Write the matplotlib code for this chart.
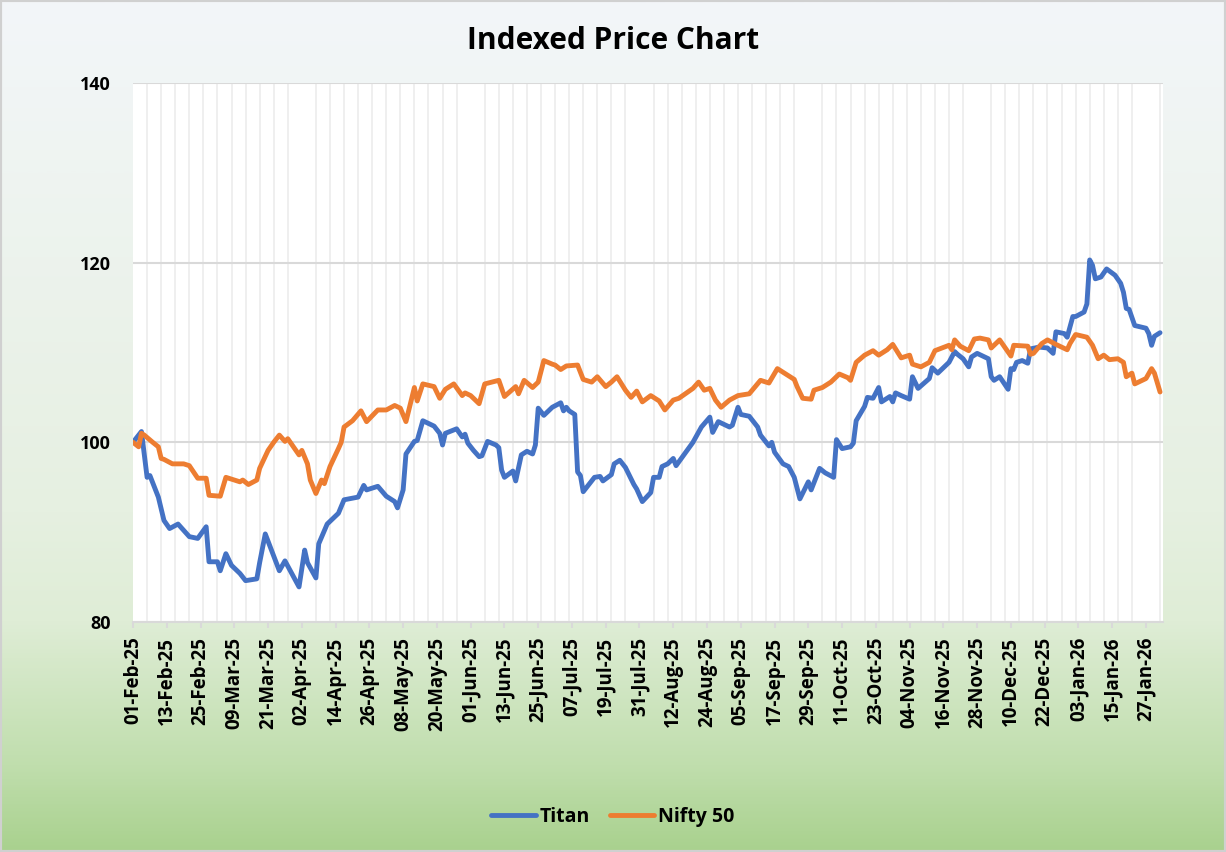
import matplotlib
matplotlib.use("Agg")
import matplotlib.pyplot as plt
import matplotlib.dates as mdates
from matplotlib.colors import LinearSegmentedColormap
from matplotlib.patches import Rectangle
import numpy as np
import pandas as pd

# Indexed prices (01-Feb-25 = 100)
titan_dates = [
    "2025-02-01", "2025-02-04", "2025-02-06", "2025-02-07", "2025-02-10", "2025-02-12",
    "2025-02-14", "2025-02-17", "2025-02-21", "2025-02-24", "2025-02-27", "2025-02-28",
    "2025-03-03", "2025-03-04", "2025-03-06", "2025-03-08", "2025-03-11", "2025-03-13",
    "2025-03-17", "2025-03-18", "2025-03-20", "2025-03-25", "2025-03-27", "2025-04-01",
    "2025-04-03", "2025-04-04", "2025-04-07", "2025-04-08", "2025-04-11", "2025-04-15",
    "2025-04-17", "2025-04-22", "2025-04-24", "2025-04-25", "2025-04-29", "2025-05-02",
    "2025-05-05", "2025-05-06", "2025-05-08", "2025-05-09", "2025-05-12", "2025-05-13",
    "2025-05-15", "2025-05-19", "2025-05-21", "2025-05-22", "2025-05-23", "2025-05-27",
    "2025-05-29", "2025-05-30", "2025-05-31", "2025-06-02", "2025-06-04", "2025-06-05",
    "2025-06-07", "2025-06-10", "2025-06-11", "2025-06-12", "2025-06-13", "2025-06-16",
    "2025-06-17", "2025-06-19", "2025-06-21", "2025-06-23", "2025-06-24", "2025-06-25",
    "2025-06-27", "2025-06-30", "2025-07-03", "2025-07-04", "2025-07-05", "2025-07-06",
    "2025-07-08", "2025-07-09", "2025-07-10", "2025-07-11", "2025-07-15", "2025-07-17",
    "2025-07-18", "2025-07-21", "2025-07-22", "2025-07-24", "2025-07-26", "2025-07-29",
    "2025-07-30", "2025-08-01", "2025-08-04", "2025-08-05", "2025-08-07", "2025-08-08",
    "2025-08-10", "2025-08-12", "2025-08-13", "2025-08-16", "2025-08-19", "2025-08-22",
    "2025-08-25", "2025-08-26", "2025-08-28", "2025-09-01", "2025-09-02", "2025-09-04",
    "2025-09-05", "2025-09-08", "2025-09-11", "2025-09-12", "2025-09-15", "2025-09-16",
    "2025-09-17", "2025-09-20", "2025-09-22", "2025-09-24", "2025-09-26", "2025-09-29",
    "2025-09-30", "2025-10-03", "2025-10-05", "2025-10-08", "2025-10-09", "2025-10-11",
    "2025-10-14", "2025-10-15", "2025-10-16", "2025-10-19", "2025-10-20", "2025-10-22",
    "2025-10-24", "2025-10-25", "2025-10-28", "2025-10-29", "2025-10-30", "2025-11-01",
    "2025-11-04", "2025-11-05", "2025-11-07", "2025-11-11", "2025-11-12", "2025-11-14",
    "2025-11-18", "2025-11-20", "2025-11-21", "2025-11-23", "2025-11-25", "2025-11-26",
    "2025-11-28", "2025-12-02", "2025-12-03", "2025-12-04", "2025-12-06", "2025-12-09",
    "2025-12-10", "2025-12-11", "2025-12-12", "2025-12-14", "2025-12-16", "2025-12-17",
    "2025-12-20", "2025-12-23", "2025-12-25", "2025-12-26", "2025-12-29", "2025-12-30",
    "2026-01-01", "2026-01-02", "2026-01-05", "2026-01-06", "2026-01-07", "2026-01-08",
    "2026-01-09", "2026-01-11", "2026-01-13", "2026-01-16", "2026-01-18", "2026-01-19",
    "2026-01-20", "2026-01-21", "2026-01-23", "2026-01-27", "2026-01-28", "2026-01-29",
    "2026-01-30", "2026-02-01",
]
titan_values = [
    100.0, 101.2, 96.1, 96.3, 93.9, 91.3,
    90.4, 90.9, 89.5, 89.3, 90.6, 86.7,
    86.7, 85.7, 87.6, 86.3, 85.4, 84.6,
    84.8, 86.6, 89.8, 85.7, 86.8, 83.9,
    88.0, 86.6, 84.9, 88.7, 90.9, 92.1,
    93.6, 93.9, 95.2, 94.7, 95.1, 94.0,
    93.4, 92.7, 94.7, 98.7, 100.1, 100.2,
    102.4, 101.8, 101.0, 99.7, 101.0, 101.5,
    100.6, 100.9, 99.9, 99.1, 98.4, 98.5,
    100.1, 99.7, 99.4, 96.9, 96.1, 96.8,
    95.7, 98.6, 99.0, 98.7, 99.7, 103.8,
    103.0, 103.9, 104.4, 103.5, 103.9, 103.5,
    103.1, 96.7, 96.3, 94.5, 96.1, 96.2,
    95.7, 96.4, 97.6, 98.0, 97.2, 95.3,
    94.8, 93.4, 94.4, 96.1, 96.1, 97.3,
    97.6, 98.2, 97.4, 98.7, 100.0, 101.7,
    102.8, 101.1, 102.3, 101.7, 101.9, 103.9,
    103.1, 102.9, 101.7, 100.8, 99.6, 100.0,
    98.9, 97.6, 97.3, 96.1, 93.7, 95.6,
    94.7, 97.1, 96.6, 96.1, 100.3, 99.3,
    99.5, 99.9, 102.4, 104.0, 105.0, 104.9,
    106.1, 104.5, 105.1, 104.5, 105.5, 105.2,
    104.8, 107.3, 106.0, 107.1, 108.3, 107.7,
    108.9, 110.1, 109.8, 109.3, 108.4, 109.5,
    109.9, 109.3, 107.3, 106.9, 107.3, 105.9,
    108.2, 108.1, 108.9, 109.1, 108.8, 110.4,
    110.6, 110.5, 109.9, 112.3, 112.1, 111.7,
    114.0, 114.0, 114.5, 115.4, 120.3, 119.7,
    118.2, 118.4, 119.3, 118.6, 117.7, 116.7,
    114.9, 114.8, 113.0, 112.7, 112.1, 110.8,
    111.8, 112.2,
]

nifty_dates = [
    "2025-02-01", "2025-02-03", "2025-02-04", "2025-02-05", "2025-02-08", "2025-02-10",
    "2025-02-11", "2025-02-12", "2025-02-15", "2025-02-19", "2025-02-21", "2025-02-24",
    "2025-02-27", "2025-02-28", "2025-03-04", "2025-03-06", "2025-03-09", "2025-03-11",
    "2025-03-12", "2025-03-14", "2025-03-17", "2025-03-18", "2025-03-21", "2025-03-23",
    "2025-03-25", "2025-03-27", "2025-03-28", "2025-04-01", "2025-04-02", "2025-04-04",
    "2025-04-05", "2025-04-07", "2025-04-09", "2025-04-10", "2025-04-12", "2025-04-15",
    "2025-04-16", "2025-04-17", "2025-04-20", "2025-04-23", "2025-04-25", "2025-04-29",
    "2025-05-02", "2025-05-05", "2025-05-07", "2025-05-09", "2025-05-12", "2025-05-13",
    "2025-05-15", "2025-05-19", "2025-05-21", "2025-05-23", "2025-05-26", "2025-05-29",
    "2025-05-30", "2025-06-01", "2025-06-04", "2025-06-06", "2025-06-11", "2025-06-13",
    "2025-06-17", "2025-06-18", "2025-06-20", "2025-06-23", "2025-06-25", "2025-06-27",
    "2025-06-30", "2025-07-01", "2025-07-03", "2025-07-05", "2025-07-09", "2025-07-11",
    "2025-07-14", "2025-07-16", "2025-07-19", "2025-07-21", "2025-07-23", "2025-07-26",
    "2025-07-28", "2025-07-30", "2025-08-01", "2025-08-04", "2025-08-07", "2025-08-09",
    "2025-08-12", "2025-08-14", "2025-08-19", "2025-08-21", "2025-08-23", "2025-08-25",
    "2025-08-27", "2025-08-29", "2025-09-01", "2025-09-04", "2025-09-08", "2025-09-12",
    "2025-09-15", "2025-09-18", "2025-09-21", "2025-09-24", "2025-09-25", "2025-09-27",
    "2025-09-30", "2025-10-01", "2025-10-04", "2025-10-07", "2025-10-10", "2025-10-13",
    "2025-10-14", "2025-10-16", "2025-10-19", "2025-10-22", "2025-10-24", "2025-10-27",
    "2025-10-29", "2025-11-01", "2025-11-04", "2025-11-05", "2025-11-08", "2025-11-11",
    "2025-11-13", "2025-11-18", "2025-11-19", "2025-11-20", "2025-11-22", "2025-11-25",
    "2025-11-27", "2025-11-29", "2025-12-02", "2025-12-03", "2025-12-06", "2025-12-08",
    "2025-12-10", "2025-12-11", "2025-12-16", "2025-12-17", "2025-12-18", "2025-12-21",
    "2025-12-23", "2025-12-26", "2025-12-30", "2025-12-31", "2026-01-02", "2026-01-06",
    "2026-01-08", "2026-01-10", "2026-01-12", "2026-01-14", "2026-01-17", "2026-01-19",
    "2026-01-20", "2026-01-22", "2026-01-23", "2026-01-27", "2026-01-29", "2026-01-30",
    "2026-02-01",
]
nifty_values = [
    100.0, 99.5, 101.0, 100.8, 100.0, 99.5,
    98.2, 98.1, 97.6, 97.6, 97.4, 96.0,
    96.0, 94.1, 94.0, 96.1, 95.8, 95.6,
    95.8, 95.3, 95.8, 97.1, 99.1, 100.0,
    100.8, 100.1, 100.4, 98.6, 99.1, 97.6,
    95.8, 94.3, 95.8, 95.4, 97.3, 99.3,
    100.0, 101.7, 102.4, 103.5, 102.3, 103.6,
    103.6, 104.1, 103.8, 102.3, 106.1, 104.6,
    106.5, 106.2, 104.9, 105.9, 106.5, 105.2,
    105.5, 105.2, 104.3, 106.5, 106.9, 105.1,
    106.2, 105.4, 106.9, 106.1, 106.7, 109.1,
    108.7, 108.6, 108.1, 108.5, 108.6, 107.0,
    106.7, 107.3, 106.2, 106.7, 107.3, 105.8,
    105.0, 105.7, 104.5, 105.2, 104.6, 103.6,
    104.7, 104.9, 106.0, 106.7, 105.8, 106.0,
    104.7, 103.9, 104.7, 105.2, 105.4, 106.9,
    106.6, 108.2, 107.6, 107.0, 106.2, 104.9,
    104.8, 105.8, 106.1, 106.7, 107.6, 107.2,
    106.9, 108.9, 109.7, 110.2, 109.7, 110.3,
    110.9, 109.4, 109.7, 108.7, 108.4, 108.9,
    110.2, 110.8, 110.3, 111.4, 110.7, 110.2,
    111.5, 111.6, 111.4, 110.5, 111.4, 110.5,
    109.6, 110.8, 110.7, 109.8, 109.9, 111.0,
    111.4, 110.9, 110.3, 111.0, 112.0, 111.7,
    110.8, 109.3, 109.7, 109.2, 109.3, 108.9,
    107.3, 107.7, 106.5, 107.1, 108.2, 107.7,
    105.6,
]

y_ticks = [80, 100, 120, 140]

plt.rcParams["font.family"] = ["Open Sans", "DejaVu Sans"]
plt.rcParams["font.weight"] = "bold"

fig = plt.figure(figsize=(12.26, 8.52), dpi=100)

# gradient background + thin frame
bg = fig.add_axes([0, 0, 1, 1], zorder=-10)
bg.axis("off")
bg_cmap = LinearSegmentedColormap.from_list(
    "bg", [(0, "#F3F6F9"), (0.6, "#E6F0E1"), (0.73, "#DFEDD6"),
           (0.9, "#C0DEAD"), (1, "#A9D18E")])
bg.imshow(np.linspace(0, 1, 500)[:, None], aspect="auto", cmap=bg_cmap,
          extent=[0, 1, 0, 1], origin="upper")
bg.add_patch(Rectangle((0, 0), 1, 1, transform=bg.transAxes, fill=False,
                       ec="#d0d0d0", lw=3))
bg.set_xlim(0, 1)
bg.set_ylim(0, 1)

ax = fig.add_axes([0.1085, 0.27, 0.84, 0.6326])
ax.set_facecolor("white")

t_x = pd.to_datetime(titan_dates)
n_x = pd.to_datetime(nifty_dates)
ax.plot(t_x, titan_values, color="#4472C4", lw=3.5, label="Titan",
        solid_joinstyle="round", solid_capstyle="round", zorder=3)
ax.plot(n_x, nifty_values, color="#ED7D31", lw=3.5, label="Nifty 50",
        solid_joinstyle="round", solid_capstyle="round", zorder=3)

ax.set_ylim(80, 140)
ax.set_yticks(y_ticks)
ax.set_xlim(pd.Timestamp("2025-02-01"), pd.Timestamp("2026-02-02"))

major = pd.date_range("2025-02-01", "2026-01-31", freq="12D")
minor = pd.date_range("2025-02-01", "2026-02-01", freq="5D")
ax.set_xticks(major)
ax.set_xticks(minor, minor=True)
ax.xaxis.set_major_formatter(mdates.DateFormatter("%d-%b-%y"))

ax.set_axisbelow(True)
ax.grid(axis="x", which="minor", color="#ececec", lw=1.2)
ax.grid(axis="x", which="major", visible=False)
ax.grid(axis="y", which="major", color="#d9d9d9", lw=1.5)

ax.tick_params(axis="x", which="minor", length=0)
ax.tick_params(axis="x", which="major", length=4.5, width=1.5, color="#d9d9d9",
               pad=6, labelrotation=90, labelsize=13.5)
ax.tick_params(axis="y", length=0, pad=16, labelsize=13)

for side in ["top", "left", "right"]:
    ax.spines[side].set_visible(False)
ax.spines["bottom"].set_color("#d9d9d9")
ax.spines["bottom"].set_linewidth(1.5)

fig.text(0.5, 1 - 41 / 852, "Indexed Price Chart", ha="center", va="center",
         fontsize=21.5, fontweight="bold")

fig.legend(loc="center", bbox_to_anchor=(0.5, 0.041), ncol=2, frameon=False,
           fontsize=14, handlelength=2.3, handletextpad=0.2, columnspacing=1.0)

fig.savefig("out.png", dpi=100)
